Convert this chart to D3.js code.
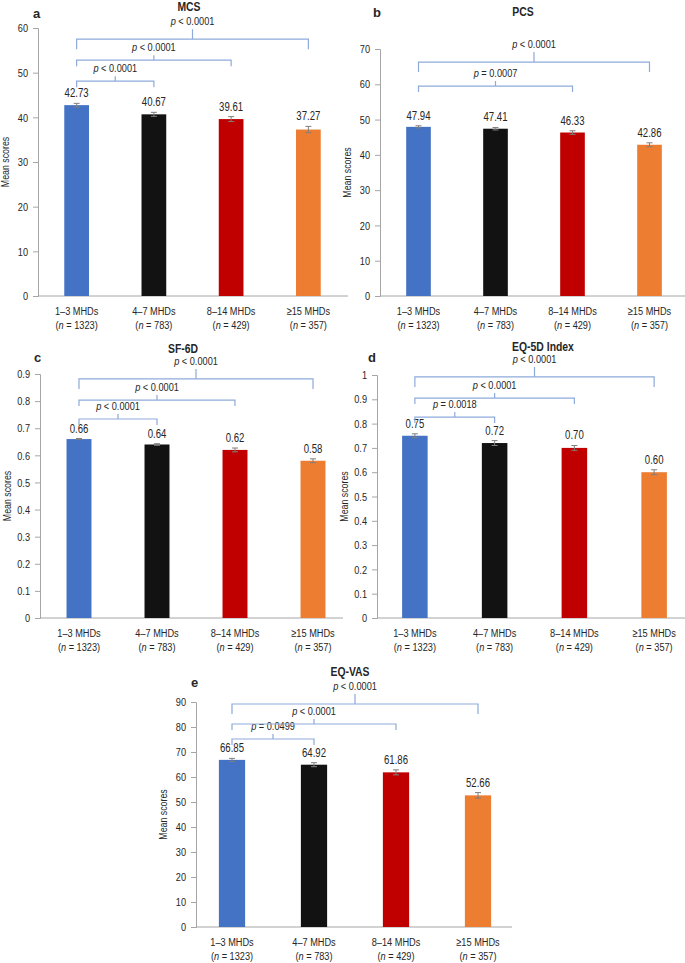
<!DOCTYPE html>
<html>
<head>
<meta charset="utf-8">
<script src="https://cdn.jsdelivr.net/npm/d3@7"></script>
<style>
  body { margin: 0; background: #fff; }
  svg { display: block; }
  text { font-family: "Liberation Sans Narrow", "Arial Narrow", "Liberation Sans", Arial, sans-serif; fill: #262626; }
  .title, .letter { font-weight: bold; }
  .letter { font-family: "Liberation Sans", Arial, sans-serif; }
</style>
</head>
<body>
<svg id="chart" width="685" height="963"></svg>
<script>
/*jshint esversion: 6 */

// groups shared by every panel
var groups = ["1–3 MHDs", "4–7 MHDs", "8–14 MHDs", "≥15 MHDs"];
var groupN = ["1323", "783", "429", "357"];
var barColors = ["#4472c4", "#121212", "#c00000", "#ed7d31"];

// a: MCS
var mcsMeans = [42.73, 40.67, 39.61, 37.27];
var mcsErr = [0.4, 0.45, 0.55, 0.7];
var mcsTicks = [0, 10, 20, 30, 40, 50, 60];
var mcsP = ["< 0.0001", "< 0.0001", "< 0.0001"];   // group 1 vs 2, 3, 4

// b: PCS
var pcsMeans = [47.94, 47.41, 46.33, 42.86];
var pcsErr = [0.3, 0.35, 0.5, 0.55];
var pcsTicks = [0, 10, 20, 30, 40, 50, 60, 70];
var pcsP = [null, "= 0.0007", "< 0.0001"];

// c: SF-6D
var sf6dMeans = [0.66, 0.64, 0.62, 0.58];
var sf6dErr = [0.002, 0.003, 0.007, 0.007];
var sf6dTicks = [0, 0.1, 0.2, 0.3, 0.4, 0.5, 0.6, 0.7, 0.8, 0.9];
var sf6dP = ["< 0.0001", "< 0.0001", "< 0.0001"];

// d: EQ-5D Index
var eq5dMeans = [0.75, 0.72, 0.70, 0.60];
var eq5dErr = [0.008, 0.01, 0.01, 0.01];
var eq5dTicks = [0, 0.1, 0.2, 0.3, 0.4, 0.5, 0.6, 0.7, 0.8, 0.9, 1];
var eq5dP = ["= 0.0018", "< 0.0001", "< 0.0001"];

// e: EQ-VAS
var vasMeans = [66.85, 64.92, 61.86, 52.66];
var vasErr = [0.6, 0.8, 1.0, 1.1];
var vasTicks = [0, 10, 20, 30, 40, 50, 60, 70, 80, 90];
var vasP = ["= 0.0499", "< 0.0001", "< 0.0001"];

// panel placement (pixels) and bracket heights (data units)
var panels = [
  { letter: "a", title: "MCS", means: mcsMeans, err: mcsErr, ticks: mcsTicks, p: mcsP,
    axisX: 38, band: [38, 347], axisEnd: 348, y0: 296, yTop: 28,
    titleX: 189, titleY: 11, letterX: 33, letterY: 18, bracketY: [48.1, 52.8, 57.5] },
  { letter: "b", title: "PCS", means: pcsMeans, err: pcsErr, ticks: pcsTicks, p: pcsP,
    axisX: 380, band: [380, 688], axisEnd: 685, y0: 296, yTop: 49,
    titleX: 523, titleY: 16, letterX: 373, letterY: 17, bracketY: [null, 59.5, 66.3] },
  { letter: "c", title: "SF-6D", means: sf6dMeans, err: sf6dErr, ticks: sf6dTicks, p: sf6dP,
    axisX: 40, band: [40, 352], axisEnd: 343, y0: 618, yTop: 374,
    titleX: 183, titleY: 353, letterX: 34, letterY: 362, bracketY: [0.734, 0.804, 0.882] },
  { letter: "d", title: "EQ-5D Index", means: eq5dMeans, err: eq5dErr, ticks: eq5dTicks, p: eq5dP,
    axisX: 377, band: [375, 694], axisEnd: 685, y0: 618, yTop: 375,
    titleX: 543, titleY: 351, letterX: 368, letterY: 362, bracketY: [0.827, 0.905, 0.992] },
  { letter: "e", title: "EQ-VAS", means: vasMeans, err: vasErr, ticks: vasTicks, p: vasP,
    axisX: 196, band: [191, 519], axisEnd: 512, y0: 927, yTop: 702,
    titleX: 350, titleY: 676, letterX: 191, letterY: 687, bracketY: [75.2, 81.2, 89.2] }
];

var svg = d3.select("#chart");
var fmt = d3.format(".2f");
var bracketColor = "#8eaadb";
var axisColor = "#a6a6a6";
var squeeze = 0.8;   // narrow look of the original's condensed font

// place text at (x, y) squeezed horizontally
function narrowAt(x, y, rot) {
  return "translate(" + x + "," + y + ")" + (rot ? " rotate(" + rot + ")" : "") + " scale(" + squeeze + ",1)";
}

function drawPanel(cfg) {
  var g = svg.append("g");
  var yMax = cfg.ticks[cfg.ticks.length - 1];

  var x = d3.scaleBand().domain(groups).range(cfg.band)
    .paddingInner(0.68).paddingOuter(0.34);
  var y = d3.scaleLinear().domain([0, yMax]).range([cfg.y0, cfg.yTop]);
  var mid = function(i) { return x(groups[i]) + x.bandwidth() / 2; };

  // y axis
  var yAxis = d3.axisLeft(y).tickValues(cfg.ticks).tickSize(5).tickPadding(5)
    .tickFormat(function(d) { return String(d); });
  var ya = g.append("g").attr("transform", "translate(" + cfg.axisX + ",0)").call(yAxis);
  ya.select(".domain").attr("stroke", axisColor);
  ya.selectAll(".tick line").attr("stroke", axisColor);
  ya.selectAll(".tick text")
    .attr("font-size", 11.5)
    .attr("x", -10 / squeeze)
    .attr("transform", "scale(" + squeeze + ",1)")
    .style("fill", "#262626");

  // x axis line
  g.append("line")
    .attr("x1", cfg.axisX).attr("x2", cfg.axisEnd)
    .attr("y1", cfg.y0).attr("y2", cfg.y0)
    .attr("stroke", axisColor);

  // category labels, two lines
  g.selectAll("text.cat").data(groups).enter().append("text")
    .attr("class", "cat")
    .attr("text-anchor", "middle")
    .attr("font-size", 11.5)
    .attr("transform", function(d, i) { return narrowAt(mid(i), cfg.y0 + 19); })
    .text(function(d) { return d; });
  var nLine = g.selectAll("text.num").data(groups).enter().append("text")
    .attr("class", "num")
    .attr("text-anchor", "middle")
    .attr("font-size", 11.5)
    .attr("transform", function(d, i) { return narrowAt(mid(i), cfg.y0 + 33); });
  nLine.append("tspan").text("(");
  nLine.append("tspan").attr("font-style", "italic").text("n");
  nLine.append("tspan").text(function(d, i) { return " = " + groupN[i] + ")"; });

  // bars
  g.selectAll("rect.bar").data(cfg.means).enter().append("rect")
    .attr("class", "bar")
    .attr("x", function(d, i) { return x(groups[i]); })
    .attr("width", x.bandwidth())
    .attr("y", function(d) { return y(d); })
    .attr("height", function(d) { return cfg.y0 - y(d); })
    .attr("fill", function(d, i) { return barColors[i]; });

  // error bars
  var eb = g.selectAll("g.err").data(cfg.means).enter().append("g")
    .attr("class", "err")
    .attr("stroke", "#7f7f7f")
    .attr("stroke-width", 1);
  eb.append("line")
    .attr("x1", function(d, i) { return mid(i); })
    .attr("x2", function(d, i) { return mid(i); })
    .attr("y1", function(d, i) { return y(d - cfg.err[i]); })
    .attr("y2", function(d, i) { return y(d + cfg.err[i]); });
  [-1, 1].forEach(function(s) {
    eb.append("line")
      .attr("x1", function(d, i) { return mid(i) - 3; })
      .attr("x2", function(d, i) { return mid(i) + 3; })
      .attr("y1", function(d, i) { return y(d + s * cfg.err[i]); })
      .attr("y2", function(d, i) { return y(d + s * cfg.err[i]); });
  });

  // value labels
  g.selectAll("text.val").data(cfg.means).enter().append("text")
    .attr("class", "val")
    .attr("text-anchor", "middle")
    .attr("font-size", 12)
    .attr("transform", function(d, i) { return narrowAt(mid(i), y(d + cfg.err[i]) - 6); })
    .text(function(d) { return fmt(d); });

  // comparison brackets, group 1 against groups 2..4
  var cx0 = mid(0);
  cfg.p.forEach(function(label, k) {
    if (label === null) return;
    var cx1 = mid(k + 1);
    var by = y(cfg.bracketY[k]);
    var drop = k === 2 ? 10 : 6;
    var rise = k === 2 ? 10 : 5;
    var cm = (cx0 + cx1) / 2;
    var path = d3.path();
    path.moveTo(cx0, by + drop);
    path.lineTo(cx0, by);
    path.lineTo(cx1, by);
    path.lineTo(cx1, by + drop);
    path.moveTo(cm, by);
    path.lineTo(cm, by - rise);
    g.append("path").attr("d", path.toString())
      .attr("fill", "none").attr("stroke", bracketColor).attr("stroke-width", 1.2);
    var t = g.append("text")
      .attr("text-anchor", "middle")
      .attr("font-size", 11.5)
      .attr("transform", narrowAt(cm, by - rise - 4));
    t.append("tspan").attr("font-style", "italic").text("p");
    t.append("tspan").text(" " + label);
  });

  // y axis title
  g.append("text")
    .attr("transform", narrowAt(cfg.axisX - 29, (cfg.y0 + cfg.yTop) / 2, -90))
    .attr("text-anchor", "middle")
    .attr("font-size", 11)
    .text("Mean scores");

  // title and panel letter
  g.append("text").attr("class", "title")
    .attr("transform", narrowAt(cfg.titleX, cfg.titleY))
    .attr("text-anchor", "middle").attr("font-size", 13)
    .text(cfg.title);
  g.append("text").attr("class", "letter")
    .attr("x", cfg.letterX).attr("y", cfg.letterY)
    .attr("font-size", 13)
    .text(cfg.letter);
}

panels.forEach(drawPanel);
</script>
</body>
</html>
